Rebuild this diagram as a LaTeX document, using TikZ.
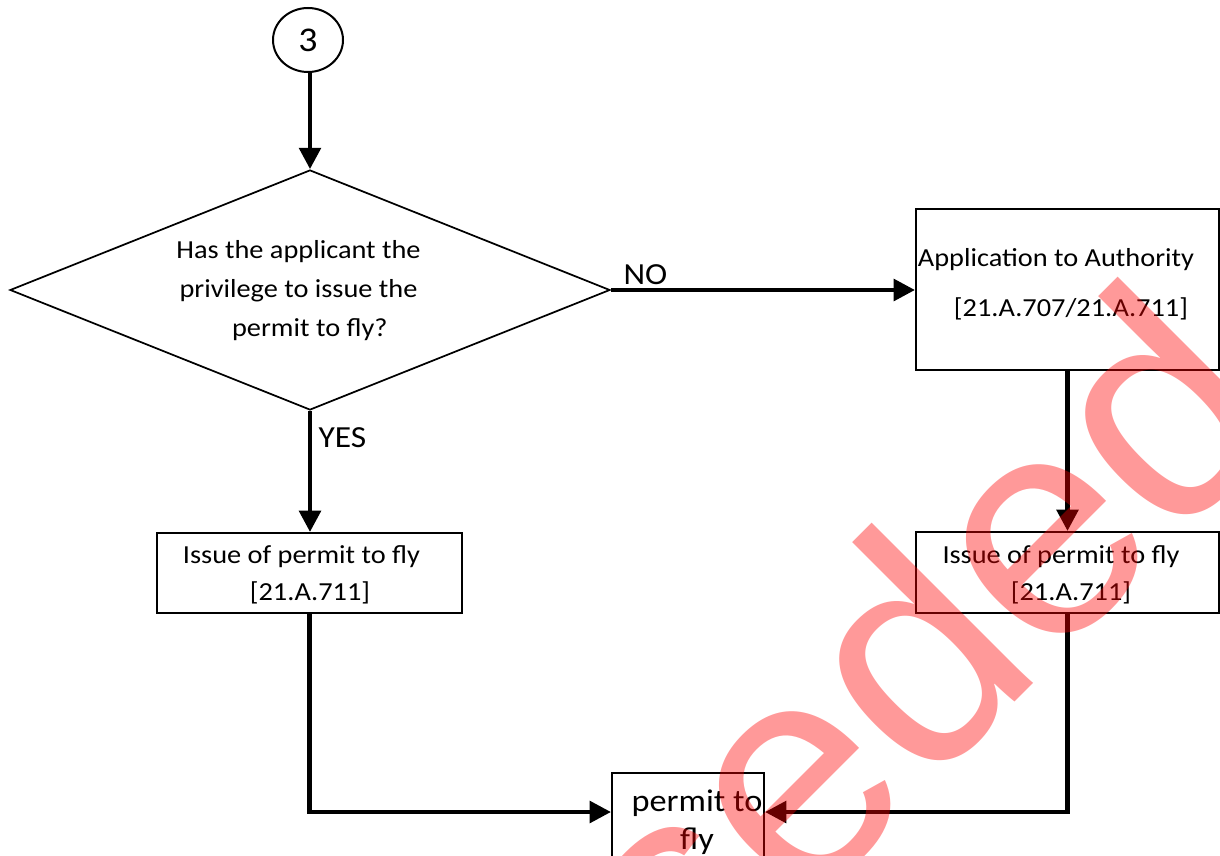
\documentclass[tikz,border=0pt]{standalone}
\usepackage{fontspec}
\setmainfont{Carlito}[FakeStretch=1.09]
\newfontfamily\wmfont{Liberation Sans}
\usetikzlibrary{arrows.meta,shapes.geometric,calc}
\begin{document}
\begin{tikzpicture}[x=0.75pt,y=-0.75pt,
  conn/.style={line width=3.5pt,-{Triangle[length=16pt,width=16pt]}},
  boxnode/.style={draw,line width=1.5pt,rectangle,inner sep=0pt},
  txt/.style={align=center,inner sep=0pt,text=black},
  lbl/.style={inner sep=0pt,font=\fontsize{23}{28}\selectfont}]
\useasboundingbox (0,0) rectangle (1220,856);
% shapes
\node[draw,line width=1.5pt,ellipse,minimum width=52.5pt,minimum height=48pt,inner sep=0pt,
      font=\fontsize{26}{30}\selectfont] (c3) at (308,40) {3};
\node[draw,line width=1.3pt,diamond,minimum width=450pt,minimum height=180pt,inner sep=0pt] (d) at (310,290) {};
\node[boxnode,minimum width=227.25pt,minimum height=120.75pt] (app) at (1067.5,289.5) {};
\node[boxnode,minimum width=228.75pt,minimum height=60pt] (iss1) at (309.5,573) {};
\node[boxnode,minimum width=227.25pt,minimum height=60.75pt] (iss2) at (1067.5,572.5) {};
\node[boxnode,minimum width=114pt,minimum height=82.5pt] (permit) at (688,828) {};
% texts
\node[txt,font=\fontsize{19.5}{29.25}\selectfont] (dq) at (298.5,290)
  {\strut Has the applicant the\\\strut privilege to issue the\\\hspace*{17pt}permit to fly?\strut};
\node[txt,font=\fontsize{19.5}{37.5}\selectfont] (appt) at (1056,281)
  {\strut Application to Authority\\\hspace*{22.5pt}[21.A.707/21.A.711]\strut};
\node[txt,font=\fontsize{19.5}{27.75}\selectfont] (iss1t) at (301.5,575)
  {\strut Issue of permit to fly\\\hspace*{12.75pt}[21.A.711]\strut};
\node[txt,font=\fontsize{19.5}{27.75}\selectfont] (iss2t) at (1061,575)
  {\strut Issue of permit to fly\\\hspace*{15pt}[21.A.711]\strut};
\node[txt,font=\fontsize{23.6}{28.5}\selectfont] (permitt) at (697,823)
  {\strut permit to\\fly\strut};
\node[lbl] (no) at (645.5,275) {NO};
\node[lbl] (yes) at (342.5,437.5) {YES};
% connectors
\draw[conn] (c3.south -| d.north) -- (d.north);
\draw[conn] (d.east) -- (d.east -| app.west);
\draw[conn] (d.south) -- (d.south |- iss1.north);
\draw[conn] (app.south) -- (app.south |- iss2.north);
\draw[conn] (iss1.south) |- (permit.west |- 0,812);
\draw[conn] (iss2.south) |- (permit.east |- 0,812);
% watermark
\begin{scope}
\clip (0,0) rectangle (1220,856);
\node[anchor=base west,rotate=45,inner sep=0pt,text=red,text opacity=0.4,
      font=\wmfont\fontsize{235.5}{236}\selectfont] (wm) at (97,1620) {Superseded};
\end{scope}
\end{tikzpicture}
\end{document}
